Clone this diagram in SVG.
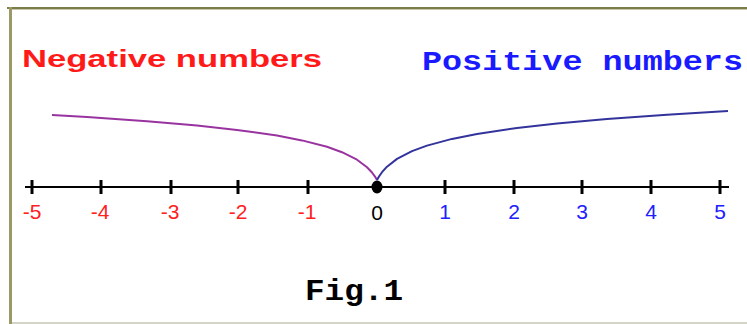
<svg xmlns="http://www.w3.org/2000/svg" width="747" height="324" viewBox="0 0 747 324">
<style>
.tick{stroke:#000;stroke-width:3}
.neg{fill:#ff2020;font-family:"Liberation Sans",Arial,sans-serif;font-size:21px;text-anchor:middle}
.pos{fill:#2020ff;font-family:"Liberation Sans",Arial,sans-serif;font-size:21px;text-anchor:middle}
.curve{fill:none;stroke-width:2;stroke-linejoin:round}
</style>
<rect width="747" height="324" fill="#fff"/>
<g id="frame">
<rect x="7" y="7" width="740" height="2" fill="#7c7c4a"/>
<rect x="11" y="9" width="736" height="1" fill="#c8c8a8"/>
<rect x="9" y="7" width="3" height="317" fill="#9a9a66"/>
<rect x="12" y="322" width="735" height="2" fill="#d4d4c8"/>
</g>
<g id="titles">
<text x="22" y="67" fill="#ff1a1a" font-family="Liberation Sans,Arial,sans-serif" font-weight="bold" font-size="24" textLength="300" lengthAdjust="spacingAndGlyphs">Negative numbers</text>
<text x="422" y="70" fill="#1a1aff" font-family="Liberation Mono,Courier New,monospace" font-weight="bold" font-size="27" textLength="321" lengthAdjust="spacingAndGlyphs">Positive numbers</text>
</g>
<g id="curves">
<polyline class="curve" stroke="#9933a0" points="377,180 375,176.6 372,172.5 367,167.2 357,159.7 342,152.2 327,146.8 302,140.4 277,135.6 237,129.9 197,125.5 147,121.2 87,117.1 52,115"/>
<polyline class="curve" stroke="#33339c" points="377,180 379,176.5 382,172.2 387,166.7 397,158.9 412,151.1 427,145.6 452,138.9 477,134 517,128 557,123.5 607,119 667,114.7 728,111.1"/>
</g>
<g id="axis">
<line x1="25" y1="187" x2="729" y2="187" stroke="#000" stroke-width="2"/>
<g class="ticks">
<line class="tick" x1="32" y1="180" x2="32" y2="194"/>
<line class="tick" x1="101" y1="180" x2="101" y2="194"/>
<line class="tick" x1="171" y1="180" x2="171" y2="194"/>
<line class="tick" x1="238" y1="180" x2="238" y2="194"/>
<line class="tick" x1="308" y1="180" x2="308" y2="194"/>
<line class="tick" x1="445" y1="180" x2="445" y2="194"/>
<line class="tick" x1="514" y1="180" x2="514" y2="194"/>
<line class="tick" x1="582" y1="180" x2="582" y2="194"/>
<line class="tick" x1="651" y1="180" x2="651" y2="194"/>
<line class="tick" x1="720" y1="180" x2="720" y2="194"/>
</g>
<ellipse cx="377" cy="187" rx="5.5" ry="6.5" fill="#000"/>
</g>
<g id="labels">
<text class="neg" x="32" y="219">-5</text>
<text class="neg" x="100" y="219">-4</text>
<text class="neg" x="170" y="219">-3</text>
<text class="neg" x="238" y="219">-2</text>
<text class="neg" x="307" y="219">-1</text>
<text x="377" y="220" fill="#000" font-family="Liberation Sans,Arial,sans-serif" font-size="21" text-anchor="middle">0</text>
<text class="pos" x="445" y="219">1</text>
<text class="pos" x="514" y="219">2</text>
<text class="pos" x="582" y="219">3</text>
<text class="pos" x="651" y="219">4</text>
<text class="pos" x="720" y="219">5</text>
</g>
<g id="caption">
<text x="305" y="300" fill="#000" font-family="Liberation Mono,Courier New,monospace" font-weight="bold" font-size="30" textLength="98" lengthAdjust="spacingAndGlyphs">Fig.1</text>
</g>
</svg>
